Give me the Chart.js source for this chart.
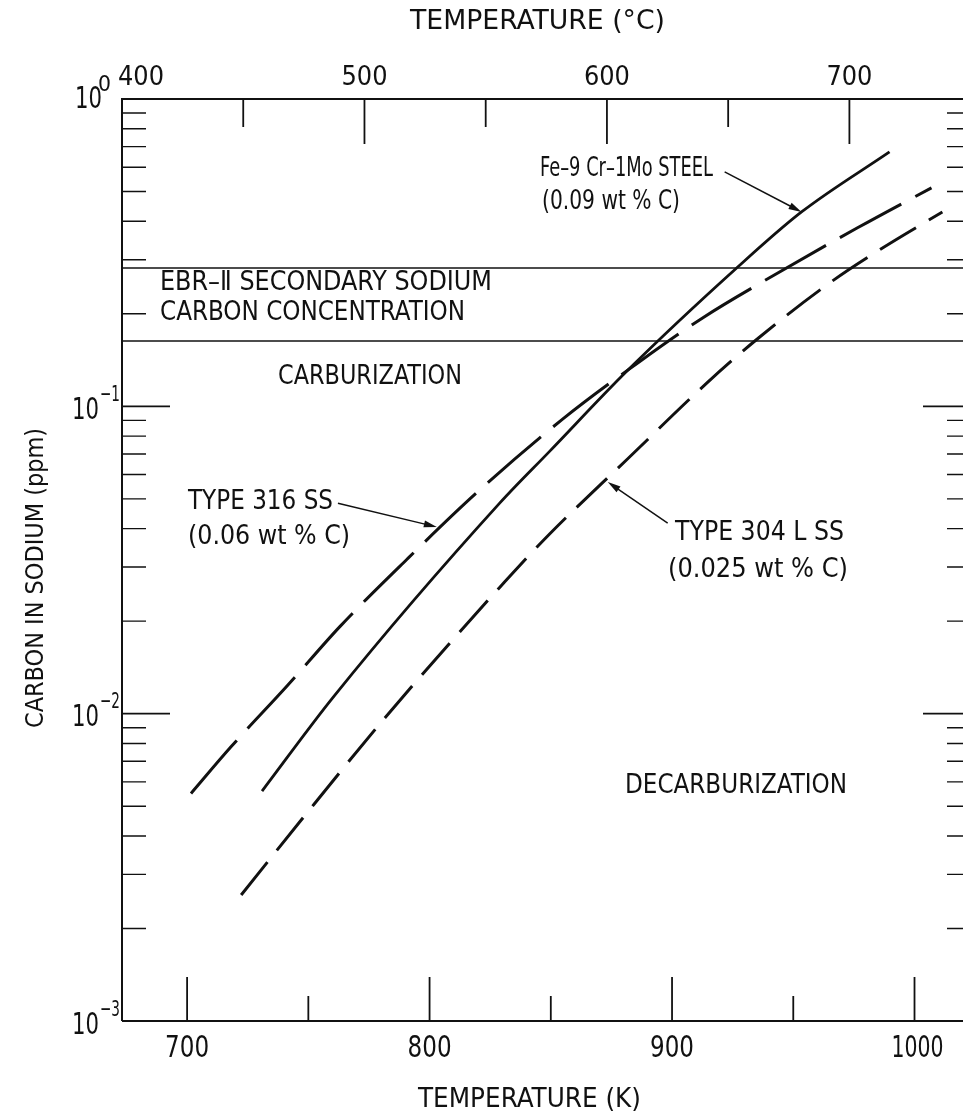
<!DOCTYPE html>
<html>
<head>
<meta charset="utf-8">
<script src="https://cdn.jsdelivr.net/npm/chart.js@4.4.1/dist/chart.umd.min.js"></script>
<style>
  html, body { margin: 0; padding: 0; background: #fff; }
  #wrap { width: 964px; height: 1119px; }
</style>
</head>
<body>
<div id="wrap"><canvas id="chartCarbon" width="964" height="1119"></canvas></div>
<script>
// ---- values (temperature in K, carbon in ppm) ----
const feTempK  = [730.9, 760.2, 829.0, 849.6, 881.3, 927.1, 953.4, 989.7];
const feCarbon = [0.0056, 0.0113, 0.0485, 0.0715, 0.130, 0.284, 0.429, 0.673];

const ss316TempK  = [701.6, 718.1, 741.2, 763.0, 790.7, 819.5, 855.0, 886.7, 912.6, 940.2, 976.5, 1007.0];
const ss316Carbon = [0.0055, 0.0078, 0.0123, 0.0192, 0.0318, 0.0524, 0.0910, 0.140, 0.194, 0.262, 0.381, 0.514];

const ss304TempK  = [722.3, 747.4, 780.4, 810.4, 829.0, 849.6, 881.3, 914.3, 934.9, 965.0, 985.6, 1011.5];
const ss304Carbon = [0.00257, 0.00454, 0.00945, 0.0177, 0.0258, 0.0385, 0.0670, 0.119, 0.165, 0.252, 0.323, 0.429];

const ebrCarbon = [0.282, 0.163];          // EBR-II secondary sodium band
const kelvinRange = [673.15, 1020];
const kelvinMajor = [700, 800, 900, 1000];
const kelvinMinor = [750, 850, 950];
const celsiusMajor = [400, 500, 600, 700];
const celsiusMinor = [450, 550, 650];
const decades = [1, 0.1, 0.01, 0.001];
const decadeExp = ['0', '\u22121', '\u22122', '\u22123'];

const ink = '#111';
const FONT = "'Liberation Sans Narrow', 'DejaVu Sans Condensed', 'DejaVu Sans', sans-serif";

function pts(xs, ys) {
  return xs.map((v, i) => ({ x: v, y: ys[i] }));
}

// draws text squeezed/stretched to a given width, vertically centred on cy
function fitText(ctx, str, left, cy, width, size) {
  ctx.font = size + 'px ' + FONT;
  const w = ctx.measureText(str).width;
  ctx.save();
  ctx.translate(left, cy);
  ctx.scale(width / w, 1);
  ctx.textAlign = 'left';
  ctx.textBaseline = 'middle';
  ctx.fillText(str, 0, 0);
  ctx.restore();
}

function arrow(ctx, x0, y0, x1, y1) {
  const ang = Math.atan2(y1 - y0, x1 - x0);
  ctx.lineWidth = 1.5;
  ctx.beginPath();
  ctx.moveTo(x0, y0);
  ctx.lineTo(x1 - 8 * Math.cos(ang), y1 - 8 * Math.sin(ang));
  ctx.stroke();
  ctx.beginPath();
  ctx.moveTo(x1, y1);
  ctx.lineTo(x1 - 13 * Math.cos(ang) + 3.5 * Math.sin(ang), y1 - 13 * Math.sin(ang) - 3.5 * Math.cos(ang));
  ctx.lineTo(x1 - 13 * Math.cos(ang) - 3.5 * Math.sin(ang), y1 - 13 * Math.sin(ang) + 3.5 * Math.cos(ang));
  ctx.closePath();
  ctx.fill();
}

// frame, inward ticks, labels and notes
const figureDecor = {
  id: 'figureDecor',
  afterDraw(chart) {
    const { ctx, chartArea: a, scales } = chart;
    const x = scales.x, xc = scales.xc, y = scales.y;
    ctx.save();
    ctx.strokeStyle = ink;
    ctx.fillStyle = ink;

    ctx.lineWidth = 2;
    ctx.beginPath();
    ctx.moveTo(a.left, a.bottom); ctx.lineTo(a.left, a.top); ctx.lineTo(a.right, a.top);
    ctx.moveTo(a.left, a.bottom); ctx.lineTo(a.right, a.bottom);
    ctx.stroke();

    // bottom (K) ticks
    ctx.lineWidth = 1.8;
    kelvinMajor.forEach(v => {
      const px = x.getPixelForValue(v);
      ctx.beginPath(); ctx.moveTo(px, a.bottom); ctx.lineTo(px, a.bottom - 44); ctx.stroke();
      if (v >= 1000) fitText(ctx, String(v), px - 23, 1049, 52, 31);
      else fitText(ctx, String(v), px - 22, 1049, 44, 31);
    });
    kelvinMinor.forEach(v => {
      const px = x.getPixelForValue(v);
      ctx.beginPath(); ctx.moveTo(px, a.bottom); ctx.lineTo(px, a.bottom - 25); ctx.stroke();
    });

    // top (°C) ticks
    celsiusMajor.forEach(v => {
      const px = xc.getPixelForValue(v);
      ctx.beginPath(); ctx.moveTo(px, a.top); ctx.lineTo(px, a.top + 45); ctx.stroke();
      const lx = v === 400 ? 141 : px;
      fitText(ctx, String(v), lx - 23, 78, 46, 27);
    });
    celsiusMinor.forEach(v => {
      const px = xc.getPixelForValue(v);
      ctx.beginPath(); ctx.moveTo(px, a.top); ctx.lineTo(px, a.top + 28); ctx.stroke();
    });

    // log ticks, left and right, pointing inward
    decades.forEach((d, i) => {
      const py = y.getPixelForValue(d);
      ctx.lineWidth = 1.8;
      ctx.beginPath();
      ctx.moveTo(a.left, py); ctx.lineTo(a.left + 48, py);
      ctx.moveTo(a.right, py); ctx.lineTo(a.right - 40, py);
      ctx.stroke();
      if (i === 0) {
        fitText(ctx, '10', 75, py + 1, 27, 30);
        fitText(ctx, decadeExp[i], 98, py - 14, 13, 22);
      } else {
        fitText(ctx, '10', 72, py + 5, 27, 30);
        fitText(ctx, decadeExp[i], 100, py - 11, 20, 22);
      }
      if (d < 1) {
        for (let m = 2; m <= 9; m++) {
          const pm = y.getPixelForValue(d * m);
          ctx.lineWidth = 1.4;
          ctx.beginPath();
          ctx.moveTo(a.left, pm); ctx.lineTo(a.left + 24, pm);
          ctx.moveTo(a.right, pm); ctx.lineTo(a.right - 16, pm);
          ctx.stroke();
        }
      }
    });

    // axis titles
    fitText(ctx, 'TEMPERATURE (\u00B0C)', 410, 22, 255, 27);
    fitText(ctx, 'TEMPERATURE (K)', 418, 1100, 223, 27);
    ctx.save();
    ctx.translate(36, 578);
    ctx.rotate(-Math.PI / 2);
    fitText(ctx, 'CARBON IN SODIUM (ppm)', -150, 0, 300, 25);
    ctx.restore();

    // notes
    fitText(ctx, 'EBR\u2013\u2161 SECONDARY SODIUM', 160, 283, 332, 27);
    fitText(ctx, 'CARBON CONCENTRATION', 160, 313, 305, 27);
    fitText(ctx, 'CARBURIZATION', 278, 377, 184, 27);
    fitText(ctx, 'DECARBURIZATION', 625, 786, 222, 27);
    fitText(ctx, 'Fe\u20139 Cr\u20131Mo STEEL', 540, 169, 173, 27);
    fitText(ctx, '(0.09 wt % C)', 542, 202, 138, 27);
    fitText(ctx, 'TYPE 316 SS', 188, 502, 145, 27);
    fitText(ctx, '(0.06 wt % C)', 188, 537, 162, 27);
    fitText(ctx, 'TYPE 304 L SS', 675, 533, 169, 27);
    fitText(ctx, '(0.025 wt % C)', 668, 570, 180, 27);

    const P = (k, c) => [x.getPixelForValue(k), y.getPixelForValue(c)];
    arrow(ctx, ...P(921.7, 0.579), ...P(953.4, 0.429));
    arrow(ctx, ...P(762.2, 0.0484), ...P(803.0, 0.0405));
    arrow(ctx, ...P(898.2, 0.0417), ...P(873.5, 0.0567));

    ctx.restore();
  }
};

const lineStyle = { showLine: true, pointRadius: 0, borderColor: ink, fill: false, cubicInterpolationMode: 'monotone' };

new Chart(document.getElementById('chartCarbon'), {
  type: 'scatter',
  data: {
    datasets: [
      { ...lineStyle, label: 'Fe-9Cr-1Mo', data: pts(feTempK, feCarbon), borderWidth: 2.8 },
      { ...lineStyle, label: 'Type 316 SS', data: pts(ss316TempK, ss316Carbon), borderWidth: 3, borderDash: [70, 16] },
      { ...lineStyle, label: 'Type 304 L SS', data: pts(ss304TempK, ss304Carbon), borderWidth: 3, borderDash: [42, 15] },
      { ...lineStyle, label: 'EBR-II high', data: pts(kelvinRange, [ebrCarbon[0], ebrCarbon[0]]), borderWidth: 1.5 },
      { ...lineStyle, label: 'EBR-II low', data: pts(kelvinRange, [ebrCarbon[1], ebrCarbon[1]]), borderWidth: 1.5 }
    ]
  },
  options: {
    responsive: false,
    animation: false,
    layout: { padding: { left: 122, right: 1, top: 99, bottom: 98 } },
    plugins: { legend: { display: false }, tooltip: { enabled: false } },
    scales: {
      x: { type: 'linear', min: kelvinRange[0], max: kelvinRange[1], display: false },
      xc: { type: 'linear', axis: 'x', position: 'top', min: kelvinRange[0] - 273.15, max: kelvinRange[1] - 273.15, display: false },
      y: { type: 'logarithmic', min: decades[3], max: decades[0], display: false }
    }
  },
  plugins: [figureDecor]
});
</script>
</body>
</html>
